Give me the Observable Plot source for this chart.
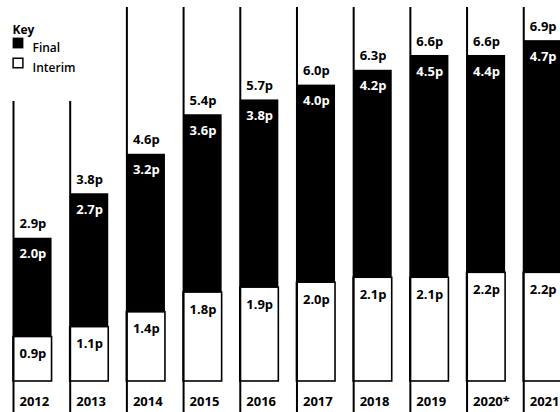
<!DOCTYPE html>
<html><head><meta charset="utf-8">
<script src="https://cdn.jsdelivr.net/npm/d3@7"></script>
<script src="https://cdn.jsdelivr.net/npm/@observablehq/plot@0.6"></script>
<style>
html,body{margin:0;padding:0;background:#fff;}
#chart svg{display:block;}
</style></head><body><div id="chart"></div>
<script>
const years = ["2012","2013","2014","2015","2016","2017","2018","2019","2020*","2021"];
const interim = [0.9,1.1,1.4,1.8,1.9,2.0,2.1,2.1,2.2,2.2];
const finalDiv = [2.0,2.7,3.2,3.6,3.8,4.0,4.2,4.5,4.4,4.7];
const totals = [2.9,3.8,4.6,5.4,5.7,6.0,6.3,6.6,6.6,6.9];
const keyTitle = "Key";
const keyLabels = ["Final","Interim"];

const data = years.map((y,i)=>({year:y, interim:interim[i], final:finalDiv[i], total:totals[i]}));

const W = 560, H = 412;
const xRange = [13, 561.8];
const padInner = 0.32;
const bw = d3.scaleBand(years, xRange).paddingInner(padInner).paddingOuter(0).bandwidth();
const font = "'Open Sans', sans-serif";

const chart = Plot.plot({
  width: W, height: H,
  marginTop: 0, marginBottom: 0, marginLeft: 0, marginRight: 0,
  style: {fontFamily: font, background: "#fff"},
  x: {type: "band", domain: years, range: xRange, paddingInner: padInner, paddingOuter: 0, align: 0, round: false, axis: null},
  y: {domain: [-0.628, 7.713], range: [H, 0], axis: null},
  marks: [
    Plot.barY(data, {x: "year", y1: 0, y2: "interim", fill: "white", stroke: "black", strokeWidth: 1.6}),
    Plot.barY(data, {x: "year", y1: "interim", y2: "total", fill: "black"}),
    Plot.ruleX(data, {x: "year", y1: -0.7, y2: d => (d.year < "2014" ? 5.67 : 7.57), dx: -bw/2, stroke: "black", strokeWidth: 2}),
    Plot.text(data, {x: "year", y: "total", text: d => d.total.toFixed(1) + "p", dx: -bw/2 + 6, dy: -14, textAnchor: "start", fill: "black", fontWeight: "bold", fontSize: 13}),
    Plot.text(data, {x: "year", y: "total", text: d => d.final.toFixed(1) + "p", dx: -bw/2 + 6, dy: 16, textAnchor: "start", fill: "white", fontWeight: "bold", fontSize: 13}),
    Plot.text(data, {x: "year", y: "interim", text: d => d.interim.toFixed(1) + "p", dx: -bw/2 + 6, dy: 17, textAnchor: "start", fill: "black", fontWeight: "bold", fontSize: 13}),
    Plot.text(data, {x: "year", frameAnchor: "bottom", text: "year", dx: -bw/2 + 6, dy: -7, textAnchor: "start", fill: "black", fontWeight: "bold", fontSize: 13}),
    // key
    Plot.text([keyTitle], {frameAnchor: "top-left", text: d => d, dx: 12, dy: 24.5, textAnchor: "start", fontWeight: "bold", fontSize: 12, fill: "black"}),
    Plot.dot([0], {frameAnchor: "top-left", dx: 17.5, dy: 42.5, symbol: "square", r: 6.1, fill: "black"}),
    Plot.dot([0], {frameAnchor: "top-left", dx: 17.5, dy: 62.5, symbol: "square", r: 5.5, fill: "white", stroke: "black", strokeWidth: 1.5}),
    Plot.text([keyLabels[0]], {frameAnchor: "top-left", text: d => d, dx: 32, dy: 43, textAnchor: "start", fontWeight: 600, fontSize: 12, fill: "black"}),
    Plot.text([keyLabels[1]], {frameAnchor: "top-left", text: d => d, dx: 32, dy: 62.5, textAnchor: "start", fontWeight: 600, fontSize: 12, fill: "black"})
  ]
});
document.getElementById("chart").appendChild(chart);
</script></body></html>
